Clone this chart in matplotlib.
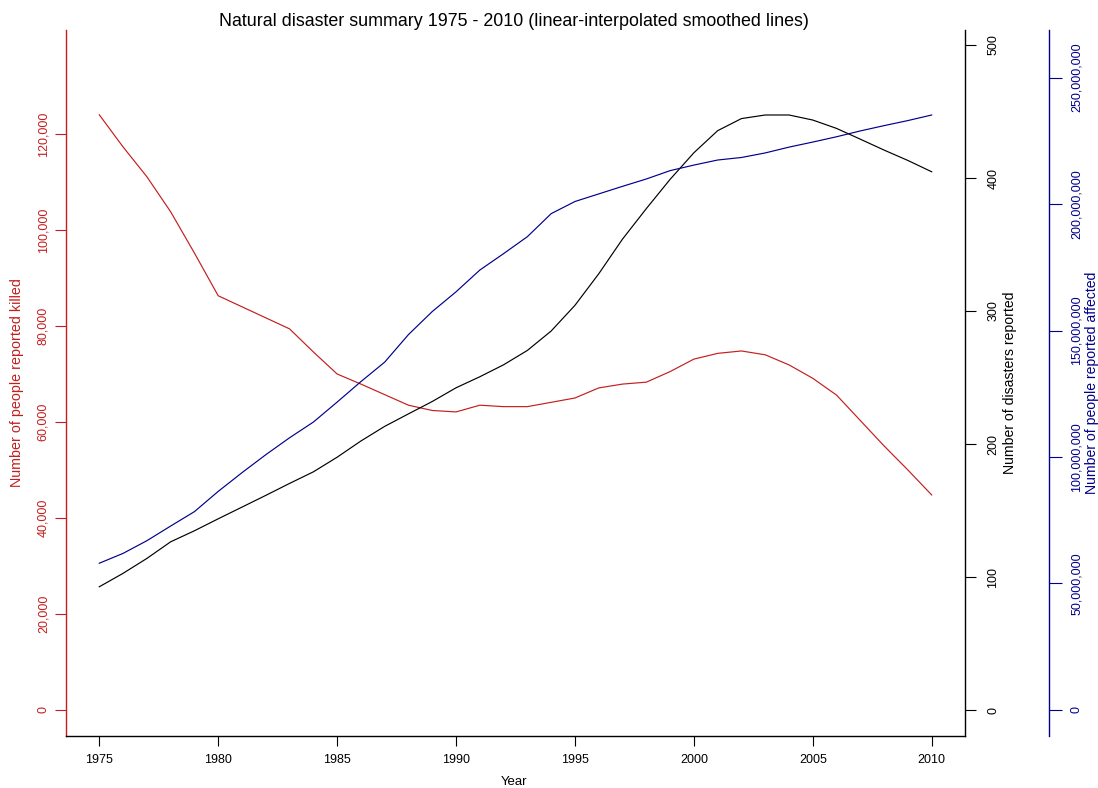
import matplotlib
matplotlib.use("Agg")
import matplotlib.pyplot as plt
import numpy as np

plt.rcParams['font.family'] = ['Liberation Sans', 'DejaVu Sans']

years = list(range(1975, 2011))

killed = [124.0, 117.3, 111.1, 103.8, 95.2, 86.3, 84.0, 81.7, 79.4, 74.6,
          70.0, 67.9, 65.7, 63.5, 62.4, 62.1, 63.5, 63.2, 63.2, 64.1,
          65.0, 67.1, 67.9, 68.3, 70.5, 73.1, 74.3, 74.8, 74.0, 71.9,
          69.1, 65.6, 60.3, 55.0, 50.0, 44.8]  # thousands
killed = [k * 1000 for k in killed]

disasters = [92.7, 102.8, 114.0, 126.5, 134.8, 143.8, 152.6, 161.4, 170.4, 179.1,
             190.1, 202.3, 213.3, 222.7, 232.0, 242.3, 250.6, 259.6, 270.4, 285.0,
             304.3, 328.0, 354.1, 377.0, 399.0, 419.0, 435.6, 444.7, 447.4, 447.4,
             443.6, 437.3, 429.2, 421.0, 413.2, 404.7]

affected = [58.0, 61.9, 66.9, 72.7, 78.4, 86.4, 93.8, 100.9, 107.6, 113.8,
            121.7, 129.8, 137.5, 148.4, 157.5, 165.3, 173.9, 180.4, 187.1, 196.2,
            201.0, 204.0, 207.0, 209.9, 213.2, 215.4, 217.4, 218.4, 220.2, 222.5,
            224.5, 226.6, 228.9, 231.0, 233.0, 235.2]  # millions
affected = [a * 1e6 for a in affected]

x_ticks = [1975, 1980, 1985, 1990, 1995, 2000, 2005, 2010]
killed_ticks = [0, 20000, 40000, 60000, 80000, 100000, 120000]
disaster_ticks = [0, 100, 200, 300, 400, 500]
affected_ticks = [0, 50e6, 100e6, 150e6, 200e6, 250e6]

RED = "#C41E1E"
BLUE = "#00008B"
BLACK = "#000000"

W, H = 1098, 788
fig = plt.figure(figsize=(W / 100, H / 100), dpi=100)
L, R, T, B = 66, 965, 30, 736
ax = fig.add_axes([L / W, 1 - B / H, (R - L) / W, (B - T) / H])
ax2 = ax.twinx()
ax3 = ax.twinx()

# spine layout first (set_position resets tick label properties)
for a in (ax, ax2, ax3):
    a.spines['top'].set_visible(False)
    a.patch.set_visible(False)
ax.spines['right'].set_visible(False)
ax.spines['left'].set_color(RED)
ax.spines['bottom'].set_color(BLACK)
for s in ('left', 'bottom'):
    ax2.spines[s].set_visible(False)
    ax3.spines[s].set_visible(False)
ax2.spines['right'].set_color(BLACK)
ax3.spines['right'].set_position(('axes', (1049 - L) / (R - L)))
ax3.spines['right'].set_color(BLUE)
for a in (ax, ax2, ax3):
    for sp in a.spines.values():
        sp.set_linewidth(1.0)

ax.plot(years, killed, color=RED, lw=0.85)
ax2.plot(years, disasters, color=BLACK, lw=0.85)
ax3.plot(years, affected, color=BLUE, lw=0.85)

ax.set_xlim(1973.6, 2011.4)
ax.set_ylim(-5417, 141667)
ax2.set_ylim(-19.5, 511.3)
ax3.set_ylim(-10.3e6, 268.8e6)

fs = 9
ax.set_xticks(x_ticks)
ax.set_xticklabels([str(v) for v in x_ticks], fontsize=fs)
ax.set_yticks(killed_ticks)
ax.set_yticklabels([f"{v:,}" for v in killed_ticks], fontsize=fs, rotation=90,
                   va='center', color=RED)
ax2.set_yticks(disaster_ticks)
ax2.set_yticklabels([str(v) for v in disaster_ticks], fontsize=fs, rotation=90,
                    va='center')
ax3.set_yticks(affected_ticks)
ax3.set_yticklabels([f"{int(v):,}" for v in affected_ticks], fontsize=fs,
                    rotation=90, va='center', color=BLUE)

ax.tick_params(axis='x', length=7, width=0.8, pad=6)
ax.tick_params(axis='y', length=8, width=0.8, pad=4, colors=RED)
ax2.tick_params(axis='y', length=8, width=0.8, pad=8)
ax3.tick_params(axis='y', length=9, width=0.8, pad=6.5, colors=BLUE)

fig.text(514 / W, 1 - 22 / H,
         "Natural disaster summary 1975 - 2010 (linear-interpolated smoothed lines)",
         ha='center', va='center', fontsize=12.9)
fig.text(514 / W, 1 - 782 / H, "Year", ha='center', va='center', fontsize=9.5)
fig.text(17 / W, 1 - 383 / H, "Number of people reported killed", ha='center',
         va='center', rotation=90, fontsize=10.3, color=RED)
fig.text(1010 / W, 1 - 383 / H, "Number of disasters reported", ha='center',
         va='center', rotation=90, fontsize=10.1, color=BLACK)
fig.text(1092 / W, 1 - 383 / H, "Number of people reported affected", ha='center',
         va='center', rotation=90, fontsize=10.1, color=BLUE)

fig.savefig("out.png", dpi=100)
